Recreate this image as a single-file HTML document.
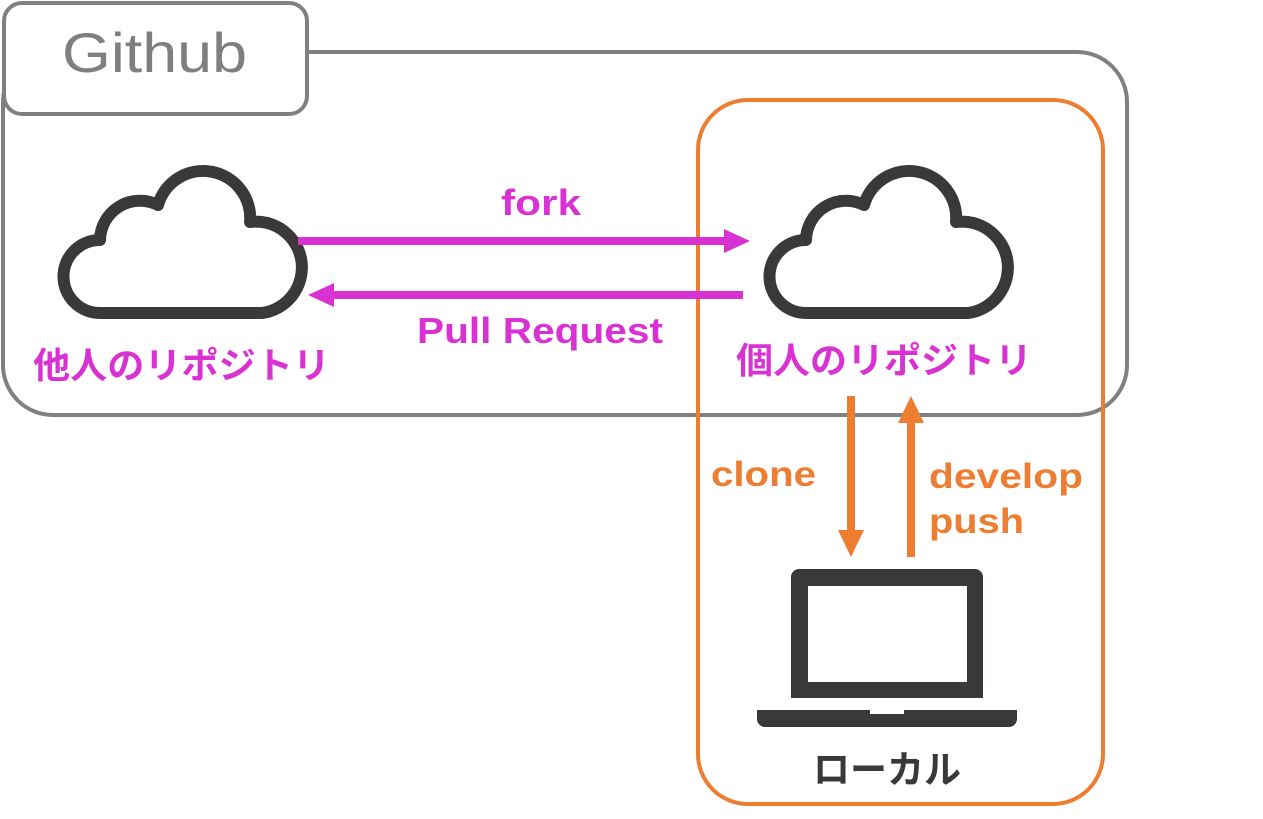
<!DOCTYPE html>
<html><head><meta charset="utf-8"><style>
html,body{margin:0;padding:0;background:#fff;width:1263px;height:819px;overflow:hidden}
svg{display:block}
text{font-family:"Liberation Sans","Noto Sans CJK JP",sans-serif;font-weight:bold}
</style></head><body>
<svg width="1263" height="819" viewBox="0 0 1263 819">
<defs>
<path id="cloud" d="M100,313 A36.5,36.5 0 0 1 100,240 A40,40 0 0 1 158,205 A47,47 0 0 1 250,222 A45,45 0 0 1 262,313 Z" fill="#fff" stroke="#3a3938" stroke-width="12" stroke-linejoin="round"/>
</defs>
<rect x="3" y="52" width="1124" height="363" rx="50" fill="none" stroke="#808080" stroke-width="4"/>
<rect x="4" y="3" width="303" height="111" rx="18" fill="#fff" stroke="#808080" stroke-width="4"/>
<text x="62" y="72" font-size="56" fill="#7f7f7f" textLength="185" lengthAdjust="spacingAndGlyphs" style="font-weight:normal">Github</text>
<rect x="698" y="100" width="405" height="704" rx="50" fill="none" stroke="#ED7D31" stroke-width="4"/>
<use href="#cloud"/>
<use href="#cloud" x="706"/>
<line x1="298" y1="241" x2="728" y2="241" stroke="#D932D2" stroke-width="8"/>
<polygon points="750,241 724,229 724,253" fill="#D932D2"/>
<line x1="743" y1="295" x2="330" y2="295" stroke="#D932D2" stroke-width="8"/>
<polygon points="308,295 334,283 334,307" fill="#D932D2"/>
<text x="501" y="215" font-size="36" fill="#D932D2" textLength="80" lengthAdjust="spacingAndGlyphs">fork</text>
<text x="417" y="343" font-size="36" fill="#D932D2" textLength="246" lengthAdjust="spacingAndGlyphs">Pull Request</text>
<text x="33" y="378" font-size="36" fill="#D932D2" textLength="297" lengthAdjust="spacingAndGlyphs">他人のリポジトリ</text>
<text x="736" y="373" font-size="36" fill="#D932D2" textLength="296" lengthAdjust="spacingAndGlyphs">個人のリポジトリ</text>
<line x1="851" y1="396" x2="851" y2="535" stroke="#ED7D31" stroke-width="8"/>
<polygon points="851,557 838,530 864,530" fill="#ED7D31"/>
<line x1="911" y1="557" x2="911" y2="418" stroke="#ED7D31" stroke-width="8"/>
<polygon points="911,396 898,423 924,423" fill="#ED7D31"/>
<text x="711" y="486" font-size="35" fill="#ED7D31" textLength="105" lengthAdjust="spacingAndGlyphs">clone</text>
<text x="929" y="488" font-size="35" fill="#ED7D31" textLength="154" lengthAdjust="spacingAndGlyphs">develop</text>
<text x="929" y="533" font-size="35" fill="#ED7D31" textLength="95" lengthAdjust="spacingAndGlyphs">push</text>
<path d="M799,569 H975 A8,8 0 0 1 983,577 V698 H791 V577 A8,8 0 0 1 799,569 Z" fill="#3a3938"/>
<rect x="808" y="586" width="159" height="96" fill="#fff"/>
<path d="M757,710 H870 V714 H904 V710 H1017 V719 A8,8 0 0 1 1009,727 H765 A8,8 0 0 1 757,719 Z" fill="#3a3938"/>
<text x="813" y="783" font-size="38" fill="#3a3938" textLength="148" lengthAdjust="spacingAndGlyphs">ローカル</text>
</svg>
</body></html>
